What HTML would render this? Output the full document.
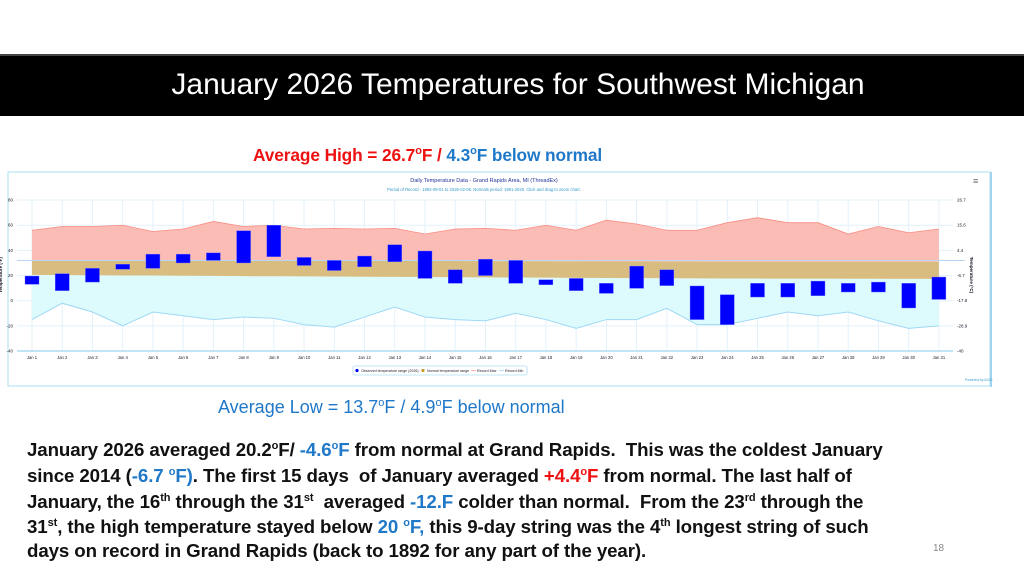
<!DOCTYPE html>
<html><head><meta charset="utf-8"><style>
body{margin:0;width:1024px;height:576px;overflow:hidden;background:#fff;font-family:"Liberation Sans",sans-serif;position:relative}
.t{position:absolute;white-space:nowrap}
.para{position:absolute;left:27px;font-weight:bold;font-size:18.7px;letter-spacing:-0.1px;color:#111;white-space:nowrap}
.b{color:#1f78c8}.r{color:#ee1111}
sup{font-size:11px;line-height:0}
</style></head><body>
<div style="position:absolute;left:0;top:54px;width:1024px;height:62px;background:#000;border-top:2px solid #444;box-sizing:border-box"></div>
<div class="t" style="left:0;width:1036px;text-align:center;top:68px;color:#fff;font-size:30px;letter-spacing:0px">January 2026 Temperatures for Southwest Michigan</div>
<div class="t" style="left:253px;top:145px;font-size:17.3px;font-weight:bold;letter-spacing:-0.1px"><span class="r">Average High = 26.7<sup>o</sup>F / </span><span class="b">4.3<sup>o</sup>F below normal</span></div>

<svg style="position:absolute;left:0;top:0" width="1024" height="576" id="chart"></svg>

<div class="t b" style="left:218px;top:397px;font-size:18px;letter-spacing:0px">Average Low = 13.7<sup>o</sup>F / 4.9<sup>o</sup>F below normal</div>
<div>
<div class="para" style="top:439px">January 2026 averaged 20.2<sup>o</sup>F/ <span class="b">-4.6<sup>o</sup>F</span> from normal at Grand Rapids.&nbsp; This was the coldest January</div>
<div class="para" style="top:465px">since 2014 (<span class="b">-6.7 <sup>o</sup>F)</span>. The first 15 days&nbsp; of January averaged <span class="r">+4.4<sup>o</sup>F</span> from normal. The last half of</div>
<div class="para" style="top:491px">January, the 16<sup>th</sup> through the 31<sup>st</sup>&nbsp; averaged <span class="b">-12.F</span> colder than normal.&nbsp; From the 23<sup>rd</sup> through the</div>
<div class="para" style="top:516px">31<sup>st</sup>, the high temperature stayed below <span class="b">20 <sup>o</sup>F,</span> this 9-day string was the 4<sup>th</sup> longest string of such</div>
<div class="para" style="top:540px">days on record in Grand Rapids (back to 1892 for any part of the year).</div>
</div>
<div class="t" style="left:933px;top:543px;font-size:10px;color:#888">18</div>

<script>
const days=['Jan 1','Jan 2','Jan 3','Jan 4','Jan 5','Jan 6','Jan 7','Jan 8','Jan 9','Jan 10','Jan 11','Jan 12','Jan 13','Jan 14','Jan 15','Jan 16','Jan 17','Jan 18','Jan 19','Jan 20','Jan 21','Jan 22','Jan 23','Jan 24','Jan 25','Jan 26','Jan 27','Jan 28','Jan 29','Jan 30','Jan 31'];
const recMax=[56,59,59,60,55,57,63,59,60,57,57.5,57,57.5,53,57,57.5,56,60,56,64,61,56,56,62,66,62,62,53,59,54,57];
const recMin=[-15,-2,-9,-20,-9,-12,-15,-13,-14,-19,-21,-13,-5,-13,-15,-16,-10,-15,-22,-15,-15,-6,-19,-19,-14,-9,-12,-9,-16,-22,-20];
const normHigh=[32,32,32,32,32,32,32,32,32,32,32,32,31.8,31.8,31.6,31.5,31.5,31.4,31.3,31.2,31.2,31.1,31.1,31,31,31,31,31,31,31,31];
const normLow=[20.5,20.3,20.2,20,20,19.8,19.7,19.5,19.4,19.3,19.2,19,18.9,18.8,18.6,18.5,18.4,18.3,18.1,18,17.9,17.8,17.7,17.6,17.6,17.5,17.5,17.4,17.4,17.3,17.3];
const obsHigh=[19.6,21.5,25.7,29,37,37,38,55.6,60,34.4,32,35.5,44.5,39.5,24.6,33,32,16.7,17.7,13.8,27.5,24.6,11.7,4.8,13.8,13.8,15.6,13.8,14.8,13.8,18.8];
const obsLow=[13,8,14.8,25,25.7,30,32,30,35,28,24,27,31,17.7,13.8,20,13.8,12.7,8,5.8,9.8,12,-15,-19,2.9,2.9,4,6.9,6.9,-5.8,1];
const yTicks=[80,60,40,20,0,-20,-40];
const yTicksC=['26.7','15.6','4.4','-6.7','-17.8','-28.9','-40'];

const svg=document.getElementById('chart');const NS='http://www.w3.org/2000/svg';
function el(t,a,p){const e=document.createElementNS(NS,t);for(const k in a)e.setAttribute(k,a[k]);(p||svg).appendChild(e);return e;}
const X=i=>32+i*30.23, Y=v=>300.7-v*1.258;
const L=17,R=953,T=200,B=351;
const fr=el('rect',{x:8,y:172,width:982,height:214,fill:'none',stroke:'#aedcf2','stroke-width':1});


const rl=el('line',{x1:991,y1:172,x2:991,y2:387,stroke:'#9fd4ef','stroke-width':2});


const ct=el('text',{x:484,y:182,'font-size':5.5,fill:'#223399','text-anchor':'middle'});ct.textContent='Daily Temperature Data - Grand Rapids Area, MI (ThreadEx)';


const cs=el('text',{x:484,y:191,'font-size':4.2,fill:'#3399cc','text-anchor':'middle'});cs.textContent='Period of Record - 1892-08-01 to 2026-02-06. Normals period: 1991-2020. Click and drag to zoom chart.';


const mn=el('text',{x:973,y:184,'font-size':9,fill:'#666'});mn.textContent='≡';


yTicks.forEach((v,i)=>{
  const g=el('line',{x1:L,x2:R,y1:Y(v),y2:Y(v),stroke:'#e3f1fa','stroke-width':1});
  
  
  const t=el('text',{x:13,y:Y(v)+1.5,'font-size':4.5,fill:'#223','text-anchor':'end'});t.textContent=v;
  
  
  const t2=el('text',{x:957,y:Y(v)+1.5,'font-size':4.5,fill:'#223'});t2.textContent=yTicksC[i];
  
  
});
days.forEach((d,i)=>{
  const g=el('line',{x1:X(i),x2:X(i),y1:T,y2:B,stroke:'#e3f1fa','stroke-width':1});
  
  
  const t=el('text',{x:X(i),y:359,'font-size':4.2,fill:'#223','text-anchor':'middle'});t.textContent=d;
  
  
});
const bl=el('line',{x1:L,x2:R,y1:B,y2:B,stroke:'#aedcf2','stroke-width':1.5});


const yt=el('text',{x:0,y:0,'font-size':4.5,'font-weight':'bold',fill:'#112','text-anchor':'middle',transform:'translate(2,275) rotate(-90)'});yt.textContent='Temperature (°F)';


const yt2=el('text',{x:0,y:0,'font-size':4.5,'font-weight':'bold',fill:'#112','text-anchor':'middle',transform:'translate(970,275) rotate(90)'});yt2.textContent='Temperature (°C)';


function band(up,lo){let p='M';up.forEach((v,i)=>p+=X(i)+','+Y(v)+' L');for(let i=lo.length-1;i>=0;i--)p+=X(i)+','+Y(lo[i])+(i?' L':' Z');return p;}
function line(a){return 'M'+a.map((v,i)=>X(i)+','+Y(v)).join(' L');}
const rb=el('path',{d:band(recMax,normHigh),fill:'#fabcb4'});


const cb=el('path',{d:band(normLow,recMin),fill:'#ddfbfc'});


const nb=el('path',{d:band(normHigh,normLow),fill:'#d9bd80'});


const fz=el('line',{x1:L,x2:R+12,y1:Y(32),y2:Y(32),stroke:'#b9d7f5','stroke-width':1});


const rx=el('path',{d:line(recMax),fill:'none',stroke:'#f88d85','stroke-width':0.8});


const rn=el('path',{d:line(recMin),fill:'none',stroke:'#9fd8f5','stroke-width':1});


days.forEach((d,i)=>{
  const b=el('rect',{x:X(i)-7,y:Y(obsHigh[i]),width:14,height:Y(obsLow[i])-Y(obsHigh[i]),fill:'#0000ff',stroke:'#6a6aff','stroke-width':0.4});
  
  
});
const lg=el('g',{});


el('rect',{x:353,y:366,width:174,height:9,rx:2,fill:'#fff',stroke:'#aedcf2','stroke-width':0.8},lg);
const items=[['Observed temperature range (2026)','#0000ff',357],['Normal temperature range','#c49a2a',423],['Record Max','#fbb',473],['Record Min','#bfe4f7',501]];
items.forEach((it,k)=>{
  const g=el('g',{},lg);
  
  
  if(k<2) el('circle',{cx:it[2],cy:370.5,r:1.6,fill:it[1]},g); else el('line',{x1:it[2]-2,x2:it[2]+3,y1:370.5,y2:370.5,stroke:it[1],'stroke-width':1.2},g);
  const t=el('text',{x:it[2]+4,y:372,'font-size':3.6,fill:'#223'},g);t.textContent=it[0];
});
const pw=el('text',{x:965,y:381,'font-size':3.5,fill:'#3399cc'});pw.textContent='Powered by ACIS';


</script>
</body></html>
